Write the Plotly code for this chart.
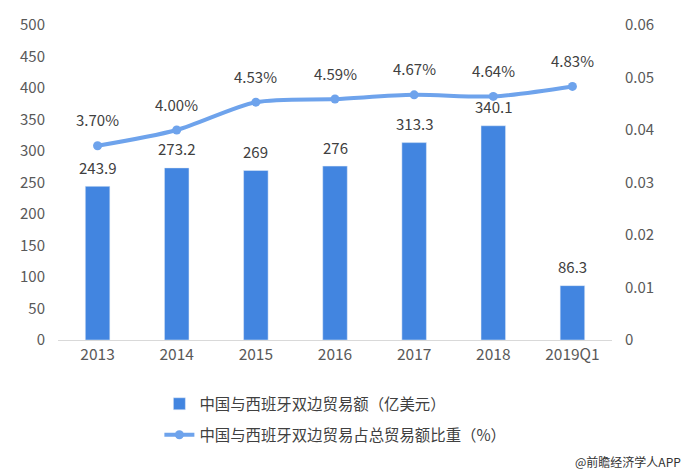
import plotly.graph_objects as go

categories = ["2013", "2014", "2015", "2016", "2017", "2018", "2019Q1"]
trade_values = [243.9, 273.2, 269, 276, 313.3, 340.1, 86.3]
trade_labels = ["243.9", "273.2", "269", "276", "313.3", "340.1", "86.3"]
share_values = [0.0370, 0.0400, 0.0453, 0.0459, 0.0467, 0.0464, 0.0483]
share_labels = ["3.70%", "4.00%", "4.53%", "4.59%", "4.67%", "4.64%", "4.83%"]
y_ticks = [0, 50, 100, 150, 200, 250, 300, 350, 400, 450, 500]
y2_ticks = [0, 0.01, 0.02, 0.03, 0.04, 0.05, 0.06]
y2_ticklabels = ["0", "0.01", "0.02", "0.03", "0.04", "0.05", "0.06"]

FONT = "Noto Sans CJK SC"
BAR_COLOR = "#4285e0"
LINE_COLOR = "#6ea3ec"

fig = go.Figure()
fig.add_trace(go.Bar(
    x=categories, y=trade_values, name="中国与西班牙双边贸易额（亿美元）",
    marker=dict(color=BAR_COLOR), width=0.31, legendgroup="a",
))
fig.add_trace(go.Scatter(
    x=categories, y=share_values, name="中国与西班牙双边贸易占总贸易额比重（%）",
    yaxis="y2", mode="lines+markers", legendgroup="b",
    line=dict(color=LINE_COLOR, width=4, shape="spline", smoothing=0.8),
    marker=dict(color=LINE_COLOR, size=9),
))

annotations = []
for i, (v, t) in enumerate(zip(trade_values, trade_labels)):
    annotations.append(dict(x=i, y=v, xref="x", yref="y", text=t, showarrow=False,
                            yanchor="middle", yshift=19,
                            font=dict(size=15, color="#404040", family=FONT)))
for i, (v, t) in enumerate(zip(share_values, share_labels)):
    annotations.append(dict(x=i, y=v, xref="x", yref="y2", text=t, showarrow=False,
                            yanchor="middle", yshift=26,
                            font=dict(size=15, color="#404040", family=FONT)))
annotations.append(dict(
    text="@前瞻经济学人APP", xref="paper", yref="paper",
    x=1.128, y=-0.385, xanchor="right", yanchor="middle", showarrow=False,
    font=dict(size=12, color="#333333", family=FONT),
))

fig.update_layout(
    width=683, height=470,
    margin=dict(l=58, r=71, t=25, b=130),
    paper_bgcolor="white", plot_bgcolor="white",
    font=dict(family=FONT, color="#595959", size=14),
    bargap=0.69,
    showlegend=True,
    legend=dict(
        orientation="v", x=0.183, y=-0.15, xanchor="left", yanchor="top",
        font=dict(size=15.4, color="#404040", family=FONT),
        tracegroupgap=8, itemwidth=30,
    ),
    xaxis=dict(
        type="category",
        showgrid=False, showline=True, linecolor="#d9d9d9", linewidth=1,
        ticks="", tickfont=dict(size=15.5, color="#595959"),
    ),
    yaxis=dict(
        range=[0, 500], tickvals=y_ticks, showgrid=False, zeroline=False,
        showline=False, ticks="", ticklabelstandoff=12,
        tickfont=dict(size=15, color="#595959"),
    ),
    yaxis2=dict(
        range=[0, 0.06], tickvals=y2_ticks, ticktext=y2_ticklabels,
        overlaying="y", side="right", showgrid=False, zeroline=False,
        showline=False, ticks="", ticklabelstandoff=12,
        tickfont=dict(size=15, color="#595959"),
    ),
    annotations=annotations,
)

fig.write_html("out.html")
